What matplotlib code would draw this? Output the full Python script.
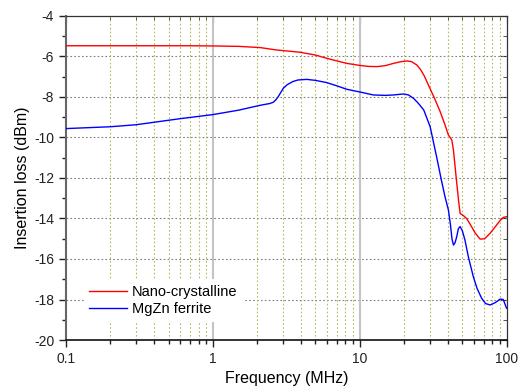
import matplotlib
matplotlib.use("Agg")
import matplotlib.pyplot as plt
import numpy as np
from matplotlib.ticker import FixedLocator, NullFormatter, FuncFormatter

plt.rcParams['font.family'] = ['Liberation Sans', 'DejaVu Sans']

# Nano-crystalline (red)
f_nano = [0.1, 0.2, 0.4, 0.7, 1.0, 1.5, 2.1, 2.72, 3.93, 5.0, 5.97, 7.0, 8.17,
          10.0, 11.5, 13.1, 15.0, 17.0, 19.0, 20.9, 22.5, 24.5, 26.0, 27.5,
          30.2, 32.5, 35.3, 38.0, 40.2, 41.5, 42.4, 43.5, 45.3, 47.1, 48.3,
          50.9, 53.5, 56.5, 61.0, 66.1, 71.0, 77.3, 84.0, 90.4, 95.0, 100.0]
il_nano = [-5.47, -5.47, -5.47, -5.47, -5.48, -5.50, -5.56, -5.68, -5.79, -5.93,
           -6.09, -6.22, -6.34, -6.44, -6.49, -6.50, -6.45, -6.34, -6.26, -6.22,
           -6.25, -6.42, -6.65, -6.95, -7.60, -8.10, -8.72, -9.35, -9.88, -10.02,
           -10.12, -10.62, -11.9, -13.09, -13.75, -13.86, -14.0, -14.28, -14.70,
           -15.02, -15.0, -14.73, -14.40, -14.10, -13.95, -13.91]

# MgZn ferrite (blue)
f_mgzn = [0.1, 0.2, 0.3, 0.6, 1.0, 1.5, 2.1, 2.45, 2.58, 2.68, 2.79, 2.9, 3.02,
          3.2, 3.5, 3.8, 4.37, 5.0, 5.97, 7.0, 8.17, 10.0, 12.4, 15.0, 17.0,
          19.9, 21.5, 23.3, 25.0, 27.3, 30.2, 33.4, 36.0, 38.1, 40.2, 41.5,
          42.5, 43.5, 44.6, 45.8, 47.0, 48.3, 50.0, 52.1, 55.0, 59.4, 63.0,
          67.7, 72.0, 77.3, 84.0, 90.4, 95.0, 97.9, 100.0]
il_mgzn = [-9.56, -9.47, -9.37, -9.07, -8.87, -8.65, -8.41, -8.32, -8.26, -8.15,
           -7.98, -7.78, -7.57, -7.40, -7.24, -7.16, -7.13, -7.18, -7.29, -7.45,
           -7.62, -7.75, -7.90, -7.92, -7.90, -7.85, -7.90, -8.07, -8.30, -8.64,
           -9.47, -10.95, -12.10, -12.92, -13.58, -14.3, -15.0, -15.31, -15.2,
           -14.9, -14.5, -14.40, -14.6, -15.06, -15.9, -16.87, -17.45, -17.94,
           -18.2, -18.27, -18.15, -17.98, -18.0, -18.25, -18.43]

x_major = [0.1, 1, 10, 100]
x_minor = [m * d for d in [0.1, 1, 10] for m in range(2, 10)]
y_major = np.arange(-20, -3, 2)
y_minor = np.arange(-19, -4, 2)

fig = plt.figure(figsize=(5.25, 3.88), dpi=100)
ax = fig.add_axes([0.1257, 0.1237, 0.8391, 0.8351])

ax.set_xscale('log')
ax.set_xlim(0.1, 100)
ax.set_ylim(-20, -4)

# grid
for v in y_major[1:-1]:
    ax.axhline(v, color='#808080', ls=(0, (1.5, 2)), lw=0.8, zorder=1)
for v in x_minor:
    ax.axvline(v, color='#b8b860', ls=(0, (1.5, 2)), lw=0.8, zorder=1)
for v in [1, 10]:
    ax.axvline(v, color='#c4c4c4', lw=1.5, zorder=1)

ax.plot(f_nano, il_nano, color='#ff0000', lw=1.0, label='Nano-crystalline', zorder=3)
ax.plot(f_mgzn, il_mgzn, color='#0000ff', lw=1.0, label='MgZn ferrite', zorder=3)

ax.xaxis.set_major_locator(FixedLocator(x_major))
ax.xaxis.set_minor_locator(FixedLocator(x_minor))
ax.xaxis.set_major_formatter(FuncFormatter(lambda v, p: '%g' % v))
ax.xaxis.set_minor_formatter(NullFormatter())
ax.yaxis.set_major_locator(FixedLocator(y_major))
ax.yaxis.set_minor_locator(FixedLocator(y_minor))
ax.yaxis.set_major_formatter(FuncFormatter(lambda v, p: '%d' % v))

ax.tick_params(which='both', direction='out', labelsize=10, colors='#222222')
ax.tick_params(which='major', length=5, width=1)
ax.tick_params(which='minor', length=3, width=1)

for side in ['top', 'right']:
    ax.spines[side].set_color('#333333')
ax.spines['bottom'].set_color('#111111')
ax.spines['left'].set_color('#666666')
ax.spines['left'].set_linewidth(1.5)
ax.spines['bottom'].set_linewidth(1.2)

# mirrored axes with inward ticks
top = ax.secondary_xaxis('top')
top.xaxis.set_major_locator(FixedLocator(x_major))
top.xaxis.set_minor_locator(FixedLocator(x_minor))
top.tick_params(which='both', direction='in', labeltop=False, colors='#333333')
top.tick_params(which='major', length=5)
top.tick_params(which='minor', length=3)
right = ax.secondary_yaxis('right')
right.yaxis.set_major_locator(FixedLocator(y_major))
right.yaxis.set_minor_locator(FixedLocator(y_minor))
right.tick_params(which='both', direction='in', labelright=False, colors='#333333')
right.tick_params(which='major', length=5)
right.tick_params(which='minor', length=3)

ax.set_xlabel('Frequency (MHz)', fontsize=11.5, labelpad=4)
ax.set_ylabel('Insertion loss (dBm)', fontsize=11.5, labelpad=3)

leg = ax.legend(loc='lower left', bbox_to_anchor=(0.04, 0.055), fontsize=10.5,
                frameon=True, edgecolor='none', facecolor='white', framealpha=1,
                fancybox=False, handlelength=2.6, handletextpad=0.3,
                labelspacing=0.25, borderpad=0.4, borderaxespad=0)
leg.set_zorder(5)

fig.savefig('out.png', dpi=100)
